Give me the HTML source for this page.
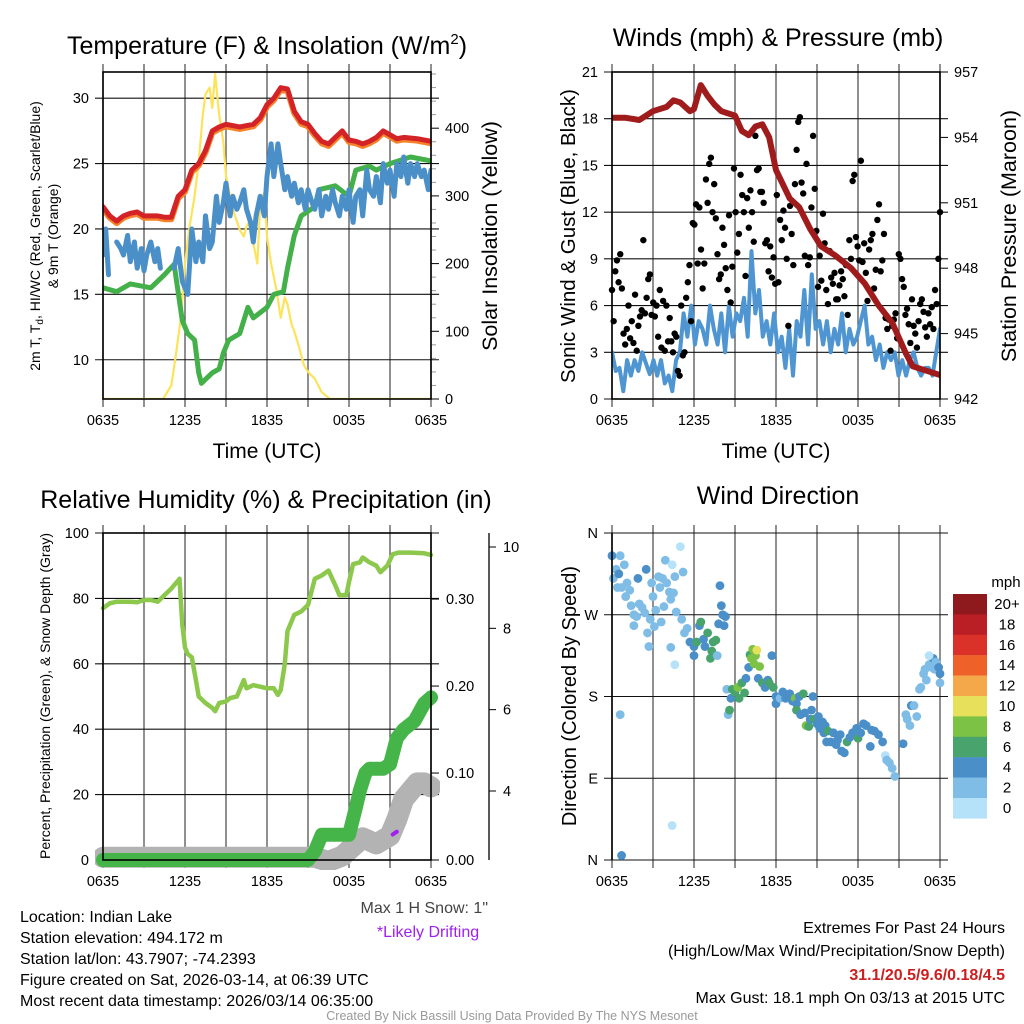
<!DOCTYPE html>
<html><head><meta charset="utf-8"><style>
body{margin:0;background:#fff;}
svg{display:block;font-family:"Liberation Sans",sans-serif;}
</style></head><body>
<svg id="chart" width="1024" height="1024" viewBox="0 0 1024 1024" xmlns="http://www.w3.org/2000/svg">
<defs>
<clipPath id="c1"><rect x="103" y="72" width="328" height="327"/></clipPath>
<clipPath id="c2"><rect x="612" y="72" width="328" height="327"/></clipPath>
<clipPath id="c3"><rect x="95" y="525" width="345" height="345"/></clipPath>
<clipPath id="c4"><rect x="604" y="525" width="345" height="345"/></clipPath>
</defs>
<g id="root"></g>
</svg>
<script>
// ---------- DATA ----------
const timeTickLabels = ["0635","1235","1835","0035","0635"];
const tempHours = [0,0.5,1,1.5,2,2.5,3,3.5,4,4.5,5,5.5,6,6.5,7,7.5,8,8.5,9,10,11,11.5,12,12.5,13,13.5,14,14.5,15,15.5,16,16.5,17,17.5,18,18.5,19,19.5,20,20.5,21,21.5,22,23,24];
const tempValues = [21.7,21,20.6,21,21.2,21.3,21,21,21,20.9,20.9,22.5,23,24.5,25,26,27.5,27.8,28,27.8,28,28.5,29.5,30,30.8,30.7,29,28.2,28,27.3,26.7,26.5,27,27.5,26.8,26.7,26.5,26.7,27,27.5,27.2,26.9,27,26.9,26.7];
const dewHours = [0,1,2,3.5,4.5,5.2,5.8,6.2,6.7,7,7.2,8,8.5,8.8,9.2,10,10.3,10.6,11,12,12.5,13.2,13.5,14,14.5,15.5,15.8,17,18,18.5,19.5,20,21,22.5,24];
const dewValues = [15.5,15.2,15.8,15.5,16.5,17.3,13,12,11.5,9,8.2,9,9.3,10.5,11.5,12,13,14,13.2,14,15,15.2,17,19.5,21,21.7,23,23.3,22.5,24.5,24.8,24.5,25,25.5,25.2];
const chillHours = [0,0.2,0.4,null,1,1.3,1.5,1.8,2,2.3,2.5,2.8,3,3.2,3.5,3.8,4,4.2,null,5.2,5.5,5.8,6.2,6.5,6.8,7,7.3,7.5,7.8,8,8.3,8.5,8.8,9,9.3,9.5,9.8,10,10.3,10.5,10.8,11,11.2,11.5,11.8,12,12.3,12.5,12.8,13,13.3,13.5,13.8,14,14.3,14.5,14.8,15,15.3,15.5,15.8,16,16.3,16.5,16.8,17,17.3,17.5,17.8,18,18.3,18.5,18.8,19,19.3,19.5,19.8,20,20.3,20.5,20.8,21,21.3,21.5,21.8,22,22.3,22.5,22.8,23,23.3,23.5,23.8,24];
const chillValues = [18,20,16.5,null,19,18.5,18,19.5,17.5,19,17,18.5,16.8,18,19,17.5,18.5,17,null,17,18.5,16,15,20,17.5,19,17.5,21,18.5,19,22.5,20.5,22,23.5,21,22.5,21.5,22,23,21.5,20.5,19,21,22.5,21,24,26.5,24,26.5,25,23,24,22.5,23.5,22,23,21.5,23,22,21.5,23,21,22.5,21.5,23,22,21,22.5,21.5,23,20.5,22.5,23,21,24.5,23,22.5,24,22,25,23.5,24.5,22.5,25,24,25.5,23.5,25,24,25,24,24.5,23,24.5,21.5];
const solarHours = [0,4.4,5,5.3,5.7,6,6.3,6.7,7,7.3,7.5,7.8,8,8.2,8.5,8.8,9,9.5,10,10.3,10.5,10.8,11,11.3,11.5,11.8,12,12.3,12.7,13,13.3,13.5,13.8,14,14.3,14.7,15,15.5,16,16.6,24];
const solarValues = [0,0,20,60,120,200,250,300,350,420,450,460,430,480,420,380,330,280,250,240,255,265,230,200,290,305,240,200,160,120,150,140,110,100,80,50,40,30,10,0,0];
const sonicWind = [3,1.8,2,0.5,2.5,1.5,2.5,1.8,3,2.3,1.6,2.5,1.5,2.5,1,1.5,0.5,2.5,3,5.5,4,6,3.5,5,4.5,3.5,6,4.5,3.5,5.5,3,6,4,5.5,5,6.5,4,9.5,5.5,7,4,5,3.5,5.5,3,4,2,4.5,1.5,5,4,7,3.5,8,4.5,5,3.5,5,3,4.5,3.5,5.5,3,4.5,3.5,4,5,6,3.5,4,2.5,3.5,2,3,2.5,3,1.5,2.5,1.5,2.5,3,2,1.5,2,2,1.5,3,4.5];
const gustValues = [7,5,8.2,8.9,7.5,9.3,7.1,4.2,3.5,4.5,6,3.9,5,3.6,6.7,3.1,4.7,5.3,5.7,10.2,5.5,6.5,7.7,8,5.4,6.2,5.3,6,4,7,3.3,6.3,3.1,6,3.7,5.2,3.7,3,4.2,4,1.8,1.5,6,2.8,3,
6.5,7.5,8.6,5,11.3,11.2,12.5,8.7,12.3,9.6,7.1,8.7,14.1,12.6,15.1,15.5,12,13.8,11.6,9.3,7.7,8,11,9.9,8.4,7,11.8,6.2,8.5,14.8,12,9.4,10.6,14.4,13.1,12,7.9,12.9,11,13.4,12,
10.1,16.9,14.7,14.8,13.3,13.3,12.6,10,10.2,8.2,9.8,7.8,9.1,7.4,13.1,7.5,11.5,10.2,12.1,11,9,4.7,12.4,10.6,8.6,13.8,16,17.8,18.1,13.9,13.2,9.2,15.1,8.6,9.1,12.3,16.9,13.5,10.8,7.2,9.2,7.6,
11.9,10,7,6.1,9.5,7.8,7.4,8.1,6.4,6.4,7.3,8.2,7.7,6.6,8.6,5.4,10.2,9,14,14.4,10.4,9.8,8.9,15.3,8.8,10,8.1,6.3,9.6,10.2,10.6,7.1,8.3,11.5,12.5,8.2,8.9,10.6,
5.2,4.5,5.1,3.1,4.7,5.1,5.5,3.9,9.3,9,7.7,7.2,5.4,5.8,4.8,3.6,6.4,4.7,4.2,3.3,5,6.1,6.4,5.6,4.6,4,5.5,4.8,5.9,4.5,7,6.1,9,12];
const pressureHours = [0,1,2,3,4,4.5,5,5.7,6,6.5,7,7.5,8,9,9.5,10,10.5,11,11.5,12,13,13.7,14.5,15.3,16.3,17.5,18.5,19.5,20.5,21.5,22,23,24];
const pressureValues = [954.9,954.9,954.8,955.2,955.4,955.7,955.6,955.2,955.3,956.4,955.9,955.5,955.2,955,954.3,954.1,954.5,954.6,954,952.5,951.2,950.8,949.8,949,948.6,948,947.3,946.3,945.5,944.1,943.5,943.3,943.1];
const rhHours = [0,0.5,1,2,2.5,3,3.5,4,4.5,5,5.5,5.6,5.8,6,6.2,6.5,6.8,7,7.5,8,8.2,8.5,9,9.3,9.8,10.3,10.5,11,11.5,12,12.5,12.8,13,13.3,13.5,14,14.5,15,15.5,16,16.5,17,17.3,17.8,18,18.3,18.8,19,19.5,20,20.3,20.8,21.2,21.6,22.5,23.5,24];
const rhValues = [77,78.5,79,79,78.8,79.5,79.5,79,81,83,85.5,86,72,65,63,62,55,50,48,46.5,45.5,48,48.5,49.5,50,55,52.5,53.5,53,52.5,52.5,50.5,52,60,70,75,76,78,86,87,88.5,84,81,81,85,90.5,91,92.5,91,90,88,90,93.5,94,94,93.8,93.3];
const precipHours = [0,15,15.5,16,18,18.5,18.8,19.2,19.5,20.5,21,21.5,22,22.8,23.5,24];
const precipValues = [0,0,0.01,0.029,0.029,0.06,0.08,0.1,0.105,0.105,0.11,0.14,0.15,0.16,0.18,0.187];
const snowHours = [0,15.5,16.5,17.5,18.5,19,20,21,21.5,22,22.5,23,23.5,24];
const snowValues = [2.37,2.37,2.27,2.4,2.7,2.85,2.7,2.9,3.3,3.8,4.0,4.2,4.2,4.1];
const driftHours = [21.2,21.5];
const driftValues = [2.93,3.0];
const dirHours = [0,0.1,0.3,0.4,0.5,0.6,0.7,0.9,1.0,1.1,1.3,1.4,1.6,1.6,1.8,1.9,2.0,2.2,2.4,2.5,2.6,2.8,2.9,3.0,3.1,3.2,3.4,3.5,3.6,3.7,3.8,3.9,4.0,4.2,4.3,4.4,4.5,4.6,4.7,5.0,5.1,5.2,0.6,0.7,4.4,4.6,4.3,2.7,
5.3,5.5,5.7,6.0,6.0,6.2,6.4,6.5,6.7,6.8,7.0,7.2,7.3,7.4,7.6,7.7,7.8,7.9,8.0,8.1,8.2,8.3,8.4,8.5,8.6,8.7,8.8,9.0,9.2,9.3,9.5,9.7,9.8,10.0,10.1,10.2,10.3,10.4,10.5,10.6,10.7,10.8,11.0,11.2,11.4,11.5,11.7,
11.8,12.0,12.0,12.3,12.5,12.7,13.0,13.2,13.4,13.5,13.5,13.7,13.8,14.0,14.1,14.2,14.4,14.5,14.6,14.7,14.8,15.0,15.1,15.2,15.4,15.5,15.6,15.7,15.8,16.0,16.2,16.4,16.5,16.7,16.8,17.0,17.2,17.4,17.6,17.9,18.0,18.2,18.4,18.6,18.9,19.0,19.2,19.5,19.8,20.0,20.1,20.3,20.5,20.7,
21.3,21.5,21.6,21.8,21.9,22.1,22.3,22.5,22.6,22.8,22.9,23.0,23.2,23.4,23.5,23.6,23.7,23.9,24.0,24.0,23.2];
const dirDegrees = [335,310,320,300,315,335,300,325,290,305,297,280,270,258,268,310,282,278,272,320,250,265,305,290,257,275,312,300,262,310,279,330,305,295,287,325,294,312,273,345,265,317,160,5,38,215,234,235,
250,255,240,235,225,240,258,262,243,235,250,222,230,240,242,225,260,302,280,270,258,268,188,160,165,178,188,185,190,178,195,184,200,212,226,222,232,216,225,231,200,213,195,190,198,195,225,
190,180,172,178,185,178,183,175,178,172,165,180,160,183,162,148,147,155,165,180,155,150,158,145,152,140,148,130,142,130,140,127,132,138,120,118,130,135,140,145,134,140,150,148,125,143,142,138,130,115,110,107,101,92,
128,160,155,148,170,170,158,188,190,205,210,198,215,212,222,210,218,212,195,205,225];
const dirSpeeds = [3,2,2,2,3,2,1,2,1,2,2,2,2,2,1,3,2,2,2,3,2,2,2,2,2,2,1,2,2,1,1,2,1,1,1,0,1,1,1,0,1,1,1,4,0,0,2,2,
2,2,3,3,4,6,4,6,4,4,5,6,6,6,5,2,4,4,4,4,4,3,2,2,6,4,6,6,7,6,6,6,4,4,6,7,8,8,8,10,4,7,6,4,4,5,4,
6,4,4,2,4,4,4,4,8,4,6,4,3,6,4,8,6,4,4,4,6,4,4,4,4,4,4,4,6,4,4,4,4,4,4,4,6,4,4,4,6,4,4,4,4,4,4,3,3,0,2,2,2,2,
4,2,2,2,3,2,2,2,2,1,2,2,2,2,3,2,2,4,2,4,0];
const colorbarLabels = ["20+","18","16","14","12","10","8","6","4","2","0"];
const colorbarColors = ["#8e1a1d","#bb1f26","#da3128","#ee6229","#f4a84a","#e6e05a","#7cc244","#48a46c","#4a8fc8","#7fbce6","#b5e2f8"];

// ---------- HELPERS ----------
const NS="http://www.w3.org/2000/svg";
const root=document.getElementById('root');
function mk(tag,attrs,parent,txt){const e=document.createElementNS(NS,tag);for(const k in attrs)e.setAttribute(k,attrs[k]);if(txt!==undefined)e.textContent=txt;(parent||root).appendChild(e);return e;}
function lin(d0,d1,r0,r1){return v=>r0+(v-d0)*(r1-r0)/(d1-d0);}
function pathD(xs,ys,sx,sy){let d="",pen=false;for(let i=0;i<xs.length;i++){if(xs[i]===null||ys[i]===null){pen=false;continue;}d+=(pen?"L":"M")+sx(xs[i]).toFixed(1)+","+sy(ys[i]).toFixed(1);pen=true;}return d;}
function evenHours(n){const a=[];for(let i=0;i<n;i++)a.push(24*i/(n-1));return a;}

function frame(x0,y0,name){
  const g=mk('g',{});
  
  
  const sx=lin(0,24,x0,x0+328);
  for(let h=0;h<=24;h+=3){const l=mk('line',{x1:sx(h),x2:sx(h),y1:y0-8,y2:y0+335,stroke:'#555','stroke-width':1.3},g);
    }
  timeTickLabels.forEach((t,i)=>{const e=mk('text',{x:sx(i*6),y:y0+353,'text-anchor':'middle','font-size':14.5},g,t);
    });
  return {g,sx};
}
function hgrid(g,x0,y,label,leftLabel){
  mk('line',{x1:x0-8,x2:x0+336,y1:y,y2:y,stroke:'#111','stroke-width':1.1},g);
  if(leftLabel){const e=mk('text',{x:x0-14,y:y+5,'text-anchor':'end','font-size':14.5},g,label);
  }
}
function border(g,x0,y0){mk('rect',{x:x0,y:y0,width:328,height:327,fill:'none',stroke:'#000','stroke-width':1.6},g);}
function title(x,y,txt,name,size){const e=mk('text',{x:x,y:y,'text-anchor':'middle','font-size':size||25},root,txt);
  return e;}
function vtitle(x,y,txt,name,size){const e=mk('text',{x:0,y:0,'text-anchor':'middle','font-size':size,transform:`translate(${x},${y}) rotate(-90)`},root,txt);
  return e;}
function series(g,d,color,w,clip,name){const p=mk('path',{d:d,fill:'none',stroke:color,'stroke-width':w,'stroke-linejoin':'round','stroke-linecap':'round','clip-path':`url(#${clip})`},g);
  return p;}

// ---------- PANEL 1 ----------
{
 const {g,sx}=frame(103,72,'temperature-panel');
 const sy=lin(7,32,399,72), sr=lin(0,483,399,72);
 [10,15,20,25,30].forEach(v=>hgrid(g,103,sy(v),String(v),true));
 for(let v=0;v<=400;v+=100){const y=sr(v);mk('line',{x1:431,x2:439,y1:y,y2:y,stroke:'#000'},g);
   const e=mk('text',{x:445,y:y+5,'font-size':14.5},g,String(v));}
 for(let v=20;v<483;v+=20){if(v%100)mk('line',{x1:431,x2:436,y1:sr(v),y2:sr(v),stroke:'#999'},g);}
 series(g,pathD(solarHours,solarValues,sx,sr),'#fde35a',2.2,'c1','solar-insolation-line');
 series(g,pathD(dewHours,dewValues,sx,sy),'#43b04a',5,'c1','dewpoint-line');
 series(g,pathD(chillHours,chillValues,sx,sy),'#4a8fc8',5,'c1','windchill-line');
 series(g,pathD(tempHours,tempValues.map(v=>v-0.15),sx,sy),'#f5822a',6,'c1','9m-temp-line');
 series(g,pathD(tempHours,tempValues,sx,sy),'#d42326',5,'c1','2m-temp-line');
 border(g,103,72);
 const t=title(267,54,'','temperature-title');
 t.innerHTML='Temperature (F) &amp; Insolation (W/m<tspan font-size="15" dy="-10">2</tspan><tspan dy="10">)</tspan>';
 title(267,458,'Time (UTC)','x-axis-title-1',21);
 vtitle(497,236,'Solar Insolation (Yellow)','right-axis-title-1',21.5);
 const v1=vtitle(40,236,'','left-axis-title-1',14);
 v1.innerHTML='2m T, T<tspan font-size="10" dy="3">d</tspan><tspan dy="-3">, HI/WC (Red, Green, Scarlet/Blue)</tspan>';
 vtitle(58,236,'& 9m T (Orange)','left-axis-title-1b',14);
}
// ---------- PANEL 2 ----------
{
 const {g,sx}=frame(612,72,'winds-panel');
 const sy=lin(0,21,399,72), sp=lin(942,957,399,72);
 for(let v=0;v<=21;v+=3)hgrid(g,612,sy(v),String(v),true);
 for(let v=942;v<=957;v+=3){const y=sp(v);mk('line',{x1:940,x2:948,y1:y,y2:y,stroke:'#000'},g);
   const e=mk('text',{x:954,y:y+5,'font-size':14.5},g,String(v));}
 series(g,pathD(evenHours(sonicWind.length),sonicWind,sx,sy),'#4e95d2',4,'c2','sonic-wind-line');
 const gh=evenHours(gustValues.length);
 gustValues.forEach((v,i)=>{const c=mk('circle',{cx:sx(gh[i]),cy:sy(v),r:3.2,fill:'#000'},g);
   });
 series(g,pathD(pressureHours,pressureValues,sx,sp),'#a01b1b',6,'c2','pressure-line');
 border(g,612,72);
 title(778,46,'Winds (mph) & Pressure (mb)','winds-title');
 title(776,458,'Time (UTC)','x-axis-title-2',21);
 vtitle(575,236,'Sonic Wind & Gust (Blue, Black)','left-axis-title-2',20.5);
 vtitle(1016,236,'Station Pressure (Maroon)','right-axis-title-2',21.5);
}
// ---------- PANEL 3 ----------
{
 const {g,sx}=frame(103,533,'humidity-panel');
 const sy=lin(0,100,860,533), spr=lin(0,0.376,860,533), ss=lin(4,10,791,547);
 for(let v=0;v<=100;v+=20)hgrid(g,103,sy(v),String(v),true);
 ['0.00','0.10','0.20','0.30'].forEach((t,i)=>{const y=spr(i*0.1);mk('line',{x1:431,x2:439,y1:y,y2:y,stroke:'#000'},g);
   const e=mk('text',{x:446,y:y+5,'font-size':14.5},g,t);});
 mk('line',{x1:489,x2:489,y1:533,y2:860,stroke:'#000','stroke-width':1.3},g);
 [4,6,8,10].forEach(v=>{const y=ss(v);mk('line',{x1:489,x2:496,y1:y,y2:y,stroke:'#000'},g);
   const e=mk('text',{x:503,y:y+5,'font-size':14.5},g,String(v));});
 series(g,pathD(snowHours,snowValues,sx,ss),'#b3b3b3',21,'c3','snow-depth-line');
 series(g,pathD(driftHours,driftValues,sx,ss),'#a020f0',4,'c3','drifting-marker');
 series(g,pathD(precipHours,precipValues,sx,spr),'#45b54a',14,'c3','precip-line');
 series(g,pathD(rhHours,rhValues,sx,sy),'#8cc84b',4.5,'c3','rh-line');
 border(g,103,533);
 title(266,508,'Relative Humidity (%) & Precipitation (in)','humidity-title');
 vtitle(50,696,'Percent, Precipitation (Green), & Snow Depth (Gray)','left-axis-title-3',14);
}
// ---------- PANEL 4 ----------
{
 const {g,sx}=frame(612,533,'wind-direction-panel');
 const sy=lin(0,360,860,533);
 ['N','E','S','W','N'].forEach((t,i)=>hgrid(g,612,sy(i*90),t,true));
 dirHours.forEach((h,i)=>{const idx=Math.max(0,Math.min(10,10-Math.round(dirSpeeds[i]/2)));
   const c=mk('circle',{cx:sx(h),cy:sy(dirDegrees[i]),r:4.4,fill:colorbarColors[idx],'clip-path':'url(#c4)'},g);
   });
 mk('line',{x1:612,x2:612,y1:533,y2:860,stroke:'#000','stroke-width':1.6},g);
 title(778,504,'Wind Direction','direction-title');
 vtitle(576,696,'Direction (Colored By Speed)','left-axis-title-4',20);
 const cb=mk('g',{});
 
 mk('text',{x:1006,y:587,'text-anchor':'middle','font-size':15},cb,'mph');
 colorbarLabels.forEach((l,i)=>{const y=594+i*20.4;
   const r=mk('rect',{x:953,y:y,width:34,height:20.6,fill:colorbarColors[i]},cb);
   
   const e=mk('text',{x:1007,y:y+15,'text-anchor':'middle','font-size':15},cb,l);
   });
}
// ---------- TEXT ----------
function txt(x,y,s,name,attrs){const e=mk('text',Object.assign({x:x,y:y,'font-size':16},attrs||{}),root,s);
  return e;}
txt(488,913,'Max 1 H Snow: 1"','max-snow-text',{'text-anchor':'end',fill:'#444'});
txt(428,937,'*Likely Drifting','drifting-note',{'text-anchor':'middle',fill:'#a020f0'});
txt(20,922,'Location: Indian Lake','location-text');
txt(20,943,'Station elevation: 494.172 m','elevation-text');
txt(20,964,'Station lat/lon: 43.7907; -74.2393','latlon-text');
txt(20,985,'Figure created on Sat, 2026-03-14, at 06:39 UTC','created-text');
txt(20,1006,'Most recent data timestamp: 2026/03/14 06:35:00','timestamp-text');
txt(1005,933,'Extremes For Past 24 Hours','extremes-title',{'text-anchor':'end'});
txt(1005,956,'(High/Low/Max Wind/Precipitation/Snow Depth)','extremes-subtitle',{'text-anchor':'end'});
txt(1005,980,'31.1/20.5/9.6/0.18/4.5','extremes-values',{'text-anchor':'end',fill:'#cc1f1f','font-weight':'bold'});
txt(1005,1003,'Max Gust: 18.1 mph On 03/13 at 2015 UTC','max-gust-text',{'text-anchor':'end'});
txt(512,1020,'Created By Nick Bassill Using Data Provided By The NYS Mesonet','credit-text',{'text-anchor':'middle',fill:'#999','font-size':12.5});
</script>
</body></html>
